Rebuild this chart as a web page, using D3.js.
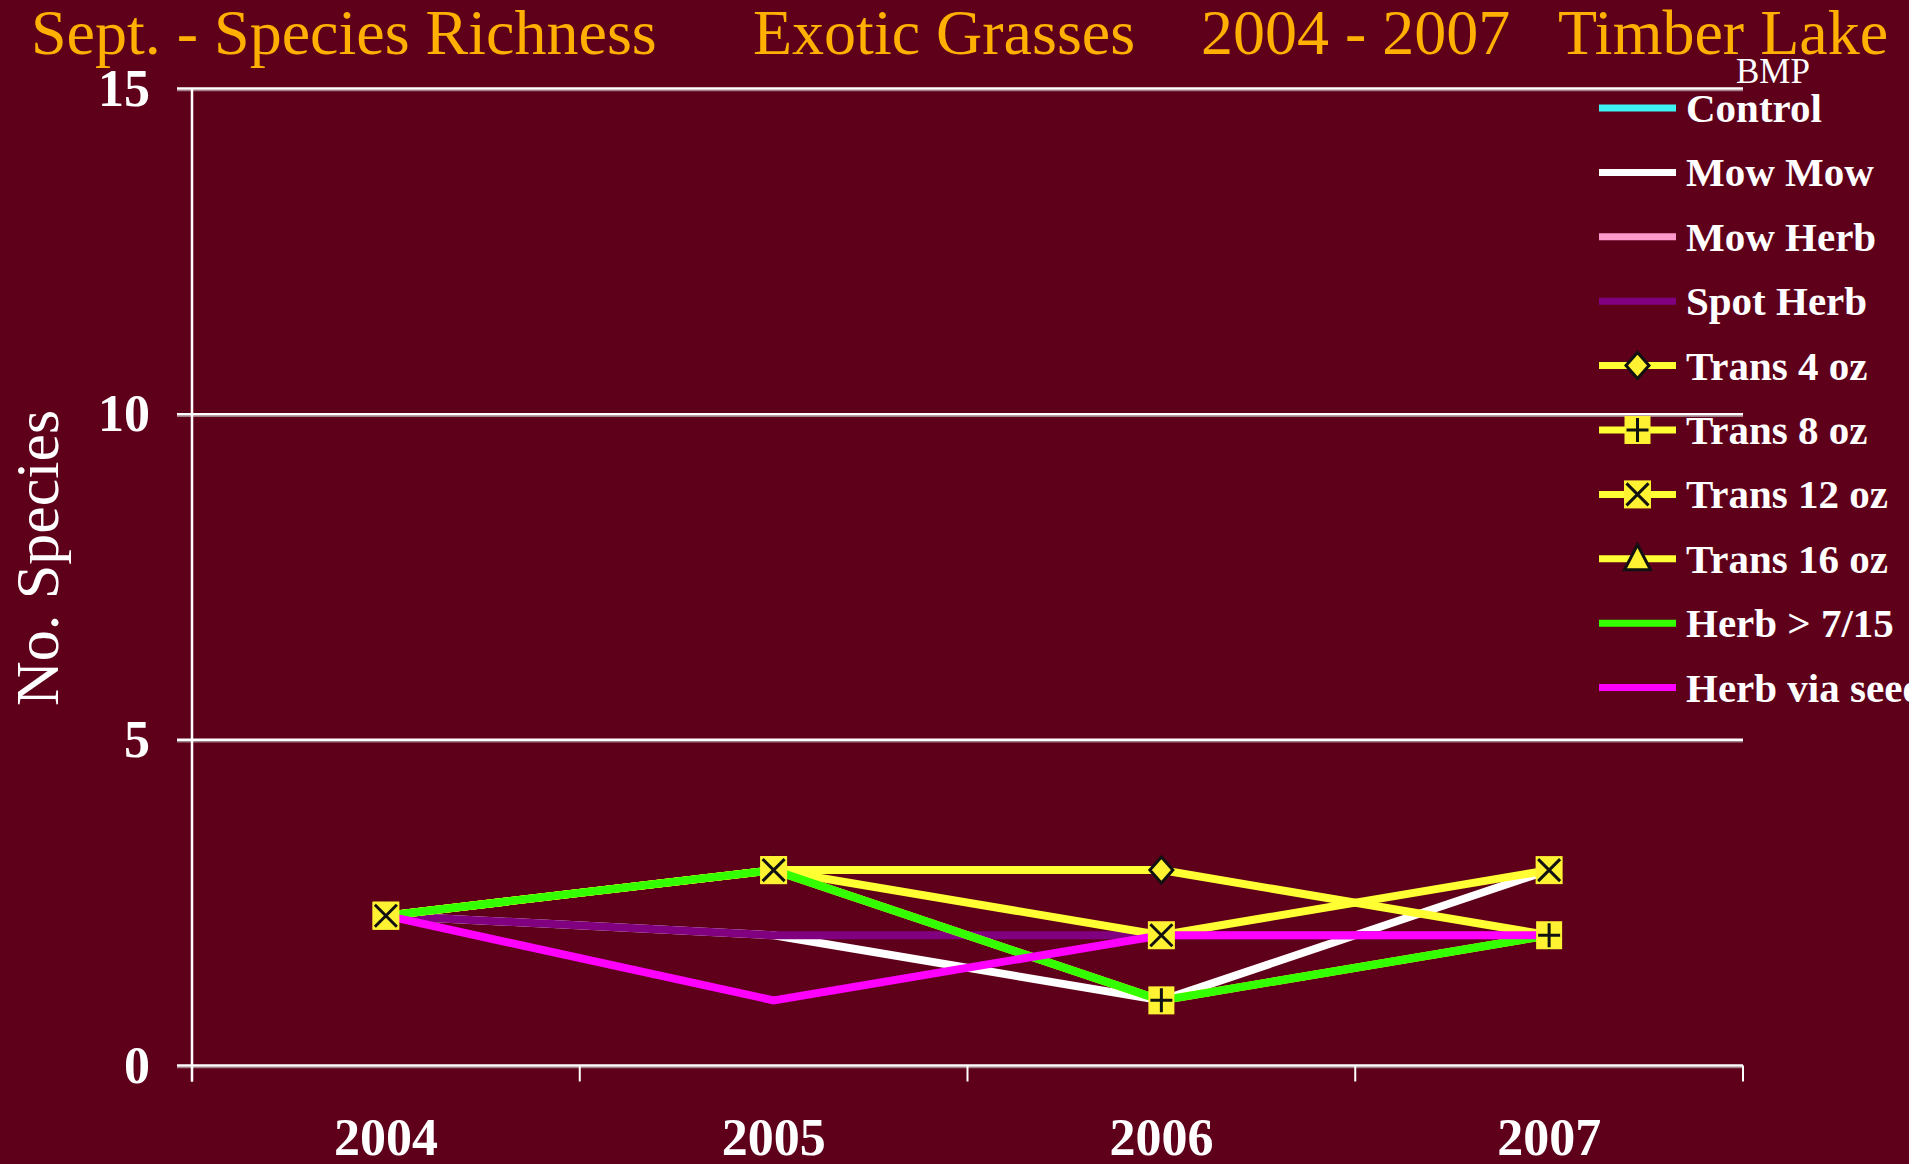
<!DOCTYPE html>
<html>
<head>
<meta charset="utf-8">
<script src="https://cdn.jsdelivr.net/npm/d3@7"></script>
<style>
  html, body { margin: 0; padding: 0; background: #ffffff; overflow: hidden; }
  svg { display: block; }
  text { font-family: "Liberation Serif", "Times New Roman", serif; }
</style>
</head>
<body>
<svg id="chart" width="1927" height="1164"></svg>
<script>
// ---- data ----
const years = ["2004", "2005", "2006", "2007"];
const yTicks = [0, 5, 10, 15];
const titleParts = ["Sept. - Species Richness", "Exotic Grasses", "2004 - 2007", "Timber Lake"];
const yTitle = "No. Species";
const legendTitle = "BMP";

const seriesNames = ["Control", "Mow Mow", "Mow Herb", "Spot Herb", "Trans 4 oz",
  "Trans 8 oz", "Trans 12 oz", "Trans 16 oz", "Herb > 7/15", "Herb via seed"];
const control   = [null, null, null, null];
const mowMow    = [2.3, 2, 1, 3];
const mowHerb   = [null, null, null, null];
const spotHerb  = [2.3, 2, 2, 2];
const trans4    = [2.3, 3, 3, 2];
const trans8    = [2.3, 3, 1, 2];
const trans12   = [2.3, 3, 2, 3];
const trans16   = [null, null, null, null];
const herbLate  = [2.3, 3, 1, 2];
const herbSeed  = [2.3, 1, 2, 2];

const seriesValues = [control, mowMow, mowHerb, spotHerb, trans4, trans8, trans12, trans16, herbLate, herbSeed];
const seriesColors = ["#3ff2f2", "#ffffff", "#ff99cc", "#800080", "#ffff33",
  "#ffff33", "#ffff33", "#ffff33", "#33ff00", "#ff00ff"];
const seriesMarkers = [null, null, null, null, "diamond", "plus", "cross", "triangle", null, null];

// ---- layout ----
const W = 1927, H = 1164;
const plotLeft = 192, plotRight = 1743, plotTop = 88.5, plotBottom = 1065.5;
const bg = "#5f001b";
const markerFill = "#fff233";

const svg = d3.select("#chart");
svg.append("rect").attr("width", W).attr("height", H).attr("fill", bg);

const x = d3.scalePoint().domain(years).range([plotLeft, plotRight]).padding(0.5);
const y = d3.scaleLinear().domain([0, 15]).range([plotBottom, plotTop]);

// gridlines (with a faint shadow beneath)
const grid = svg.append("g");
grid.selectAll("line.shadow").data(yTicks).join("line")
  .attr("class", "shadow")
  .attr("x1", plotLeft - 15).attr("x2", plotRight)
  .attr("y1", d => y(d) + 2).attr("y2", d => y(d) + 2)
  .attr("stroke", "#a08088").attr("stroke-width", 1.5);
grid.selectAll("line.main").data(yTicks).join("line")
  .attr("class", "main")
  .attr("x1", plotLeft - 15).attr("x2", plotRight)
  .attr("y1", d => y(d)).attr("y2", d => y(d))
  .attr("stroke", "#ffffff").attr("stroke-width", 2.5);

// y axis line
svg.append("line")
  .attr("x1", plotLeft).attr("x2", plotLeft)
  .attr("y1", plotTop).attr("y2", plotBottom + 16)
  .attr("stroke", "#ffffff").attr("stroke-width", 2.5);

// x axis category boundary ticks
const step = x.step();
const boundaries = d3.range(years.length + 1).map(i => plotLeft + i * step);
svg.append("g").selectAll("line").data(boundaries).join("line")
  .attr("x1", d => d).attr("x2", d => d)
  .attr("y1", plotBottom).attr("y2", plotBottom + 16)
  .attr("stroke", "#ffffff").attr("stroke-width", 2);

// y tick labels
svg.append("g").selectAll("text").data(yTicks).join("text")
  .attr("x", 150).attr("y", d => y(d) + 17)
  .attr("text-anchor", "end")
  .attr("font-size", 52).attr("font-weight", "bold")
  .attr("fill", "#ffffff")
  .text(d => d);

// x tick labels
svg.append("g").selectAll("text").data(years).join("text")
  .attr("x", d => x(d)).attr("y", 1155)
  .attr("text-anchor", "middle")
  .attr("font-size", 52).attr("font-weight", "bold")
  .attr("fill", "#ffffff")
  .text(d => d);

// y axis title
svg.append("text")
  .attr("transform", "translate(58,558) rotate(-90)")
  .attr("text-anchor", "middle")
  .attr("font-size", 62)
  .attr("fill", "#ffffff")
  .text(yTitle);

// title
const titleX = [31, 753, 1201, 1558];
svg.append("g").selectAll("text").data(titleParts).join("text")
  .attr("x", (d, i) => titleX[i]).attr("y", 54)
  .attr("font-size", 64)
  .attr("fill", "#ffb000")
  .text(d => d);

// ---- series lines ----
const line = d3.line()
  .defined(d => d.v != null)
  .x(d => x(d.year))
  .y(d => y(d.v));

const series = seriesNames.map((name, i) => ({
  name,
  color: seriesColors[i],
  marker: seriesMarkers[i],
  points: years.map((yr, j) => ({ year: yr, v: seriesValues[i][j] }))
}));

const lines = svg.append("g");
series.forEach(s => {
  lines.append("path")
    .attr("d", line(s.points))
    .attr("fill", "none")
    .attr("stroke", s.color)
    .attr("stroke-width", 8)
    .attr("stroke-linejoin", "miter");
});

// ---- markers ----
function drawMarker(g, type, cx, cy) {
  const m = g.append("g").attr("transform", `translate(${cx},${cy})`);
  if (type === "diamond") {
    m.append("path").attr("d", "M0,-13L11.5,0L0,13L-11.5,0Z")
      .attr("fill", markerFill).attr("stroke", "#111").attr("stroke-width", 3);
  } else if (type === "plus") {
    m.append("rect").attr("x", -13).attr("y", -14).attr("width", 26).attr("height", 28)
      .attr("fill", markerFill);
    m.append("path").attr("d", "M-11,0H11M0,-12V12")
      .attr("stroke", "#111").attr("stroke-width", 3);
  } else if (type === "cross") {
    m.append("rect").attr("x", -13.5).attr("y", -14).attr("width", 27).attr("height", 28)
      .attr("fill", markerFill);
    m.append("path").attr("d", "M-11,-11L11,11M11,-11L-11,11")
      .attr("stroke", "#111").attr("stroke-width", 3);
  } else if (type === "triangle") {
    m.append("path").attr("d", "M0,-14L13,11L-13,11Z")
      .attr("fill", markerFill).attr("stroke", "#111").attr("stroke-width", 3);
  }
}

const markers = svg.append("g");
series.forEach(s => {
  if (!s.marker) return;
  s.points.filter(p => p.v != null).forEach(p => drawMarker(markers, s.marker, x(p.year), y(p.v)));
});

// ---- legend ----
const legend = svg.append("g");
legend.append("text")
  .attr("x", 1736).attr("y", 83)
  .attr("font-size", 35)
  .attr("fill", "#ffffff")
  .text(legendTitle);

series.forEach((s, i) => {
  const cy = 108 + i * 64.4;
  legend.append("line")
    .attr("x1", 1599).attr("x2", 1676)
    .attr("y1", cy).attr("y2", cy)
    .attr("stroke", s.color).attr("stroke-width", 7);
  if (s.marker) drawMarker(legend, s.marker, 1637.5, cy);
  legend.append("text")
    .attr("x", 1686).attr("y", cy + 14)
    .attr("font-size", 41).attr("font-weight", "bold")
    .attr("fill", "#ffffff")
    .text(s.name);
});

// white margin strip on the right edge
svg.append("rect").attr("x", 1909).attr("y", 0).attr("width", W - 1909).attr("height", H)
  .attr("fill", "#ffffff");
</script>
</body>
</html>
